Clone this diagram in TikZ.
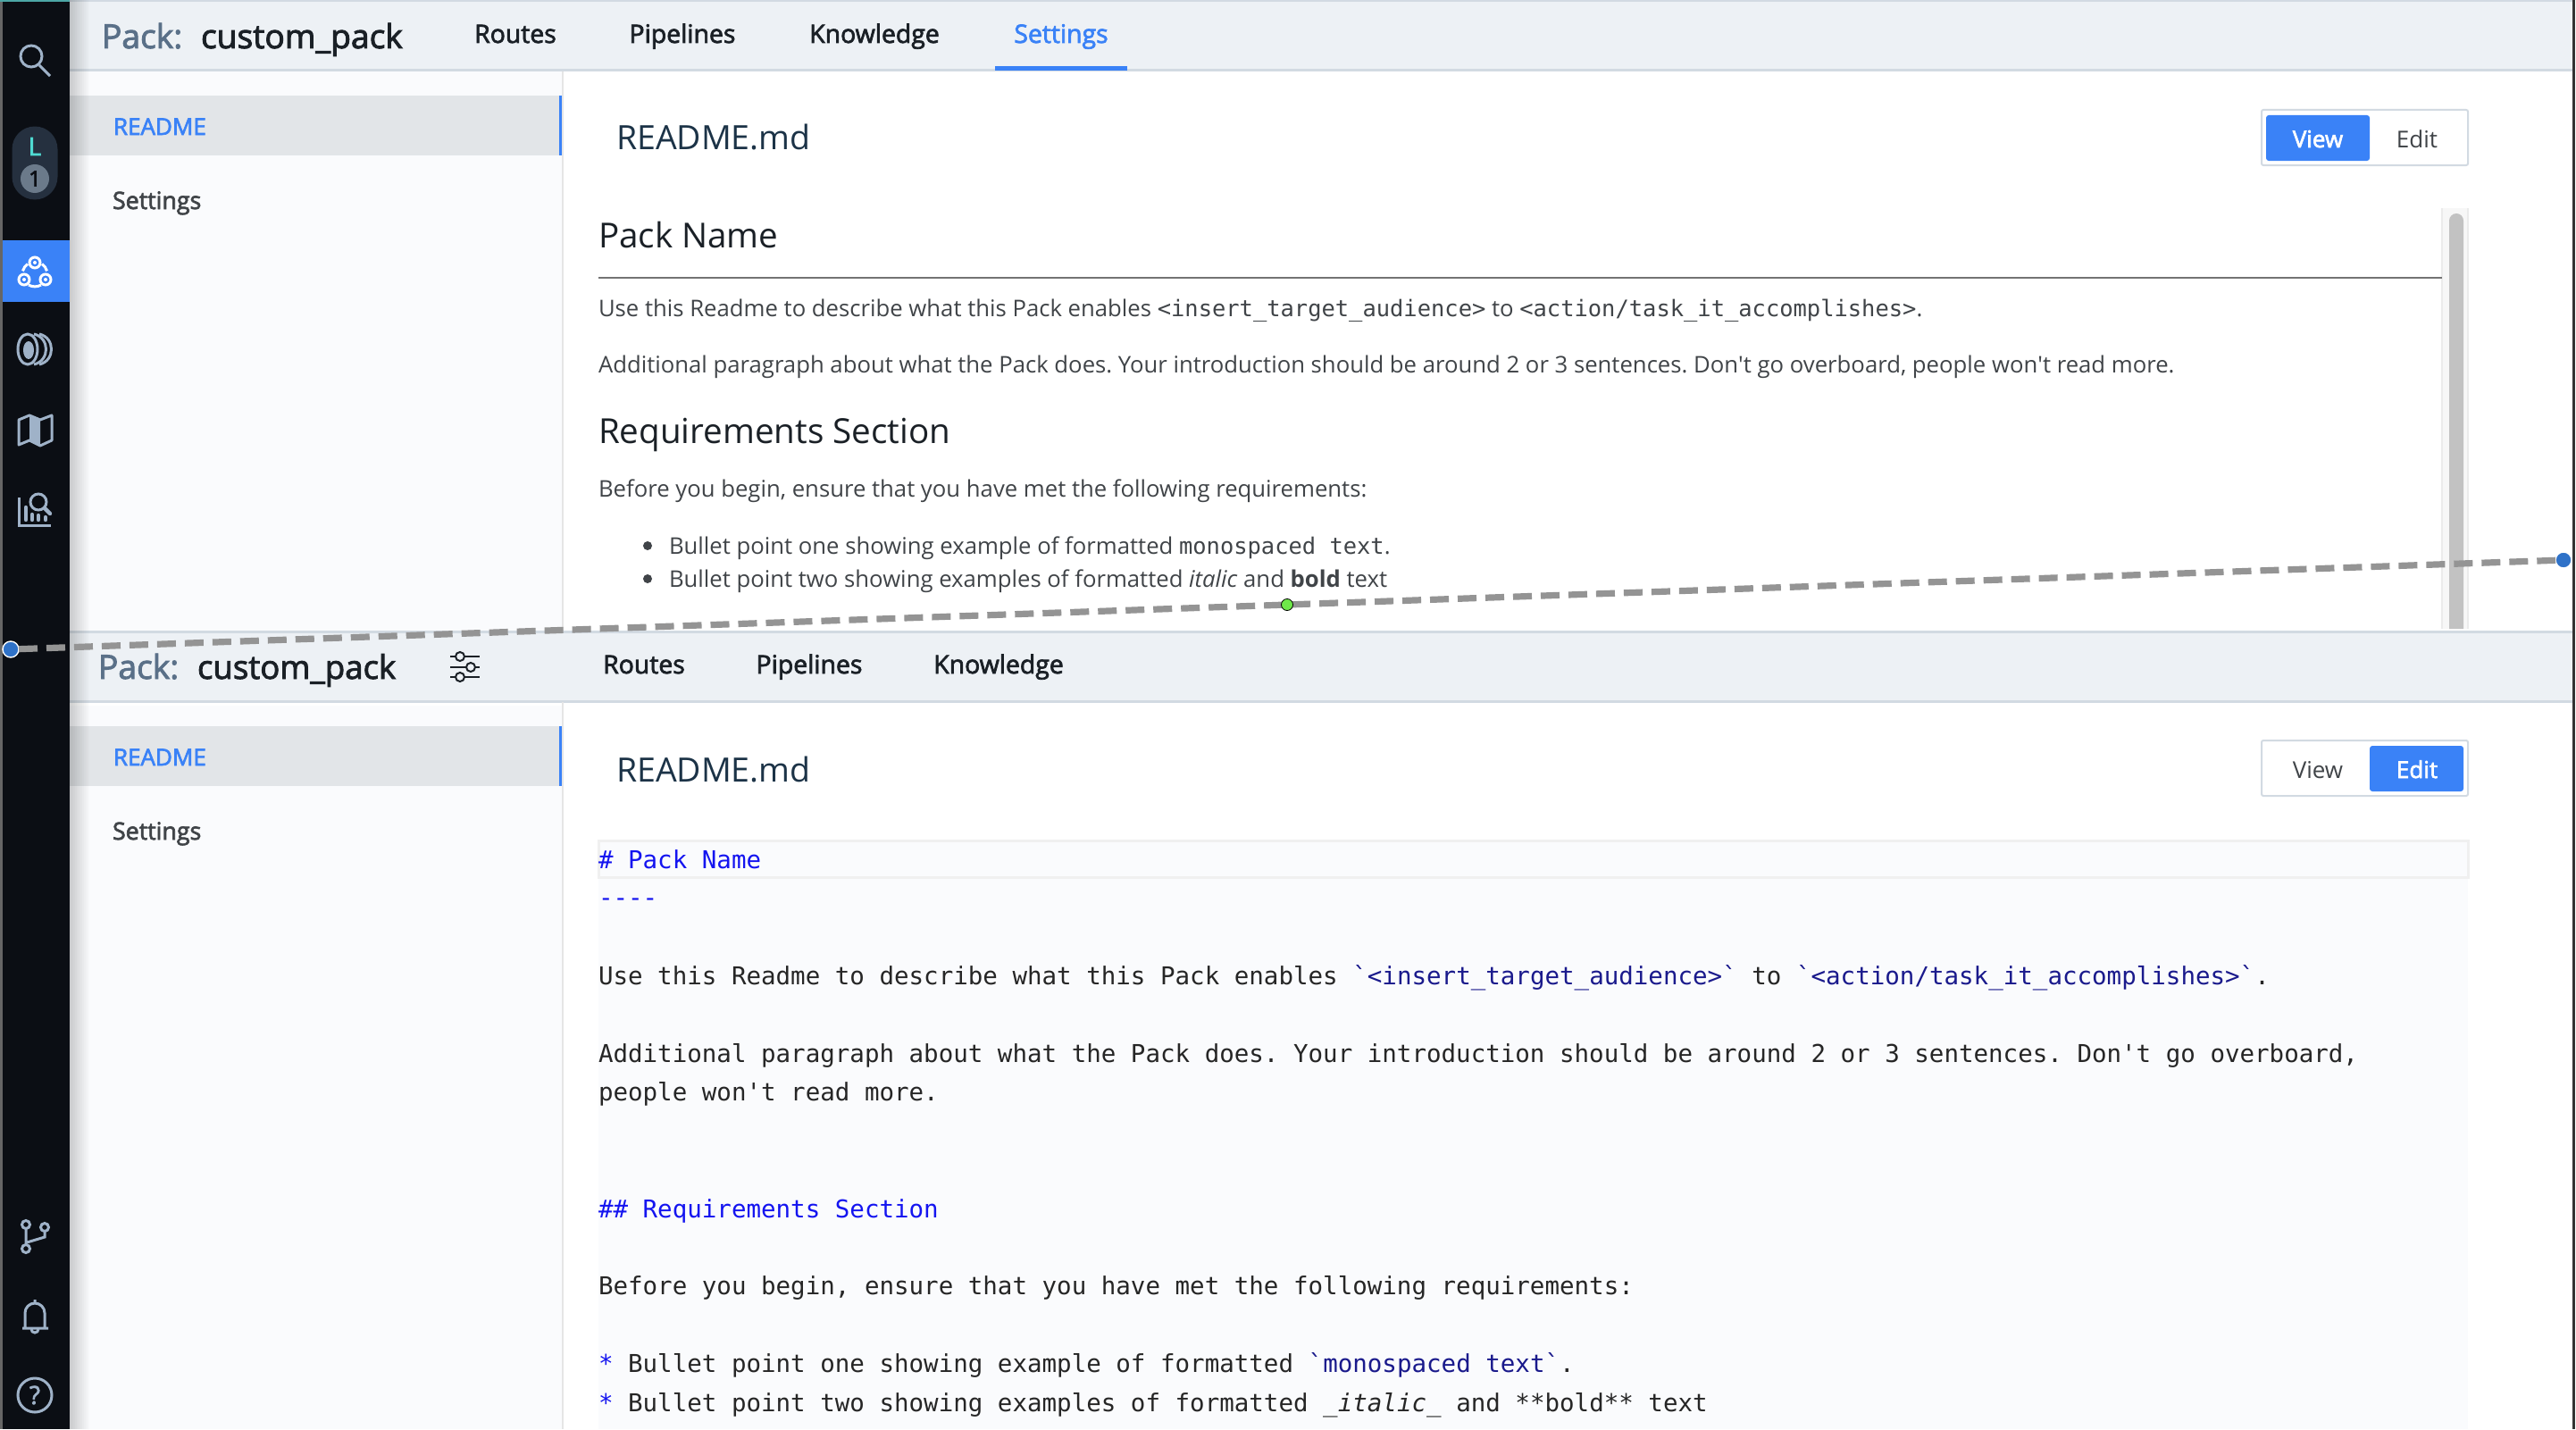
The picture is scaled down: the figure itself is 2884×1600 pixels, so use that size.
\documentclass[tikz,border=0pt]{standalone}
\usepackage{xcolor}
\usepackage{fontspec}
\setmainfont{Open Sans}
\setmonofont{DejaVu Sans Mono}
\newfontfamily\medfont{Open Sans}[FakeBold=2.5]
\newcommand{\mdcode}[1]{{\ttfamily\fontsize{12.72}{16}\selectfont #1}}
\usepackage{tikz}
\definecolor{barDark}{HTML}{0B0E14}
\definecolor{iconGrey}{HTML}{9FB2C8}
\definecolor{headBg}{HTML}{EDF1F5}
\definecolor{headLine}{HTML}{D2DAE2}
\definecolor{panelBg}{HTML}{FAFBFD}
\definecolor{rowBg}{HTML}{E2E5E8}
\definecolor{uiBlue}{HTML}{3A82F7}
\definecolor{packGrey}{HTML}{5A7088}
\definecolor{inkDark}{HTML}{1A2026}
\definecolor{inkBody}{HTML}{404448}
\definecolor{inkHead}{HTML}{1C3347}
\definecolor{codeHead}{HTML}{1414F0}
\definecolor{codeTick}{HTML}{1A1A8C}
\definecolor{handleBlue}{HTML}{2F72C8}
\definecolor{handleGreen}{HTML}{6FE84A}
\definecolor{pillBg}{HTML}{25303F}
\definecolor{pillTeal}{HTML}{4FDAD2}
\definecolor{pillNum}{HTML}{6B7A8A}
\tikzset{
  every node/.style={inner sep=0pt,outer sep=0pt},
  lbl/.style={anchor=base west},
  packlabel/.style={lbl,text=packGrey,font=\medfont\fontsize{18.6}{22}\selectfont},
  packname/.style={lbl,text=inkDark,font=\medfont\fontsize{18.6}{22}\selectfont},
  tablabel/.style={anchor=base,text=inkDark,font=\medfont\fontsize{14.2}{17}\selectfont},
  sidelabel/.style={lbl,text=inkBody,font=\medfont\fontsize{13.4}{16}\selectfont},
  sideactive/.style={lbl,text=uiBlue,font=\medfont\fontsize{13}{16}\selectfont},
  filetitle/.style={lbl,text=inkHead,font=\fontsize{18.75}{22}\selectfont},
  mdhead/.style={lbl,text=inkDark,font=\fontsize{19.3}{23}\selectfont},
  mdbody/.style={lbl,text=inkBody,font=\frenchspacing\fontsize{12.85}{16}\selectfont},
  codeline/.style={lbl,text=black!85,font=\ttfamily\fontsize{13.75}{17}\selectfont},
  codehead/.style={codeline,text=codeHead},
  togglelabel/.style={anchor=base,text=inkBody,font=\fontsize{13}{16}\selectfont},
  toggleon/.style={togglelabel,text=white,font=\medfont\fontsize{13}{16}\selectfont},
  icon/.style={iconGrey,line width=1.5pt},
  bar/.style={iconGrey,line width=2.2pt,line cap=round},
  handle/.style={circle,minimum size=9pt},
}
\begin{document}
\begin{tikzpicture}[x=1pt,y=-1pt,scale=0.5]
\useasboundingbox (0,0) rectangle (2884,1600);
\fill[white] (0,0) rectangle (2884,1600);
\fill[panelBg] (78,79) rectangle (630,1600);
\fill[rowBg] (78,107) rectangle (626,174);
\fill[uiBlue] (626,107) rectangle (630,174);
\fill[rowBg] (78,813) rectangle (626,880);
\fill[uiBlue] (626,813) rectangle (630,880);
\draw[black!10,line width=1pt] (630,79) -- (630,1600);
\fill[panelBg] (670,940) rectangle (2763,1600);
\fill[headBg] (78,0) rectangle (2880,79);
\draw[headLine,line width=1.5pt] (78,1) -- (2880,1);
\draw[headLine,line width=1.5pt] (78,79) -- (2880,79);
\fill[uiBlue] (1114,74) rectangle (1262,79);
\fill[white] (78,707) rectangle (2880,790);
\fill[headBg] (78,707) rectangle (2880,785);
\draw[headLine,line width=1.5pt] (78,707) -- (2880,707);
\draw[headLine,line width=1.5pt] (78,785) -- (2880,785);
\draw[black!10,line width=1pt] (630,786) -- (630,1600);
\fill[barDark] (0,0) rectangle (78,1600);
\fill[black!60] (0,0) rectangle (3,1600);
\fill[teal!70!white] (0,0) rectangle (78,2);
\foreach \i in {0,...,10}
  \fill[black,opacity=0.017*(11-\i)] (78+2*\i,0) rectangle (80+2*\i,1600);
\fill[black!80] (2880,0) rectangle (2883,1600);
\draw[icon] (35,63) circle (12);
\draw[icon] (44,73) -- (56,85);
\fill[pillBg] (13.5,167) arc (180:360:25.5) -- (64.5,198) arc (0:180:25.5) -- cycle;
\node[text=pillTeal,font=\medfont\fontsize{14}{17}\selectfont] (avatarL) at (39,164) {L};
\node[circle,fill=pillNum,minimum size=16pt,text=barDark,font=\medfont\fontsize{12}{14}\selectfont] (avatarNum) at (39,200) {1};
\fill[uiBlue] (3,269) rectangle (78,338);
\draw[white,line width=1.5pt] (39,294) circle (6) (27,313) circle (6) (51,313) circle (6);
\fill[white] (39,294) circle (2) (27,313) circle (2) (51,313) circle (2);
\draw[white,line width=1.5pt] (46,319) arc (60:120:14) (25.5,303.4) arc (195:235:14) (47,295.5) arc (-55:-15:14);
\draw[icon] (31,391) ellipse (11 and 17);
\fill[iconGrey] (32,392) ellipse (6 and 10);
\draw[icon] (38,374) .. controls (56,378) and (56,404) .. (38,408);
\draw[icon] (44,374) .. controls (62,378) and (62,404) .. (44,408);
\draw[icon,line join=round] (21,470) -- (33,465) -- (45,470) -- (58,465) -- (58,493) -- (45,499) -- (33,493) -- (21,498) -- cycle;
\fill[iconGrey] (33,465) -- (45,470) -- (45,499) -- (33,493) -- cycle;
\draw[icon] (21,557) -- (21,588) -- (57,588);
\draw[icon] (43,562) circle (9);
\draw[bar] (50,569) -- (56,575);
\foreach \barx/\bary in {29/568,36/576,43/577,51/579}
  \draw[bar] (\barx,\bary) -- (\barx,582);
\draw[icon] (29,1371) circle (4.5) (50,1374) circle (4.5) (29,1398) circle (4.5);
\draw[icon] (29,1376) -- (29,1393) (30,1391) -- (50,1385) -- (50,1379);
\draw[icon] (25,1487) -- (54,1487) (28,1487) -- (28,1470) arc (180:360:11) -- (50,1487);
\draw[icon] (35,1488) arc (180:0:4) (39,1455) -- (39,1459);
\draw[icon] (39,1562) circle (19);
\node[text=iconGrey,font=\medfont\fontsize{14}{17}\selectfont] (helpMark) at (39,1562) {?};
\node[packlabel] (packTop) at (114,54) {Pack:};
\node[packname] (nameTop) at (225,54) {custom\_pack};
\node[tablabel] (routesTop) at (577,48) {Routes};
\node[tablabel] (pipesTop) at (764,48) {Pipelines};
\node[tablabel] (knowTop) at (979,48) {Knowledge};
\node[tablabel,text=uiBlue] (settingsTop) at (1188,48) {Settings};
\node[sideactive] (readmeTop) at (127,151) {README};
\node[sidelabel] (sideTop) at (126,234) {Settings};
\node[filetitle] (fileTop) at (690,168) {README.md};
\draw[headLine,line width=1pt,fill=white,rounded corners=1pt] (2532,123) rectangle (2763,185);
\fill[uiBlue,rounded corners=1.5pt] (2537,129) rectangle (2653,180);
\node[toggleon] (viewTop) at (2595,165) {View};
\node[togglelabel] (editTop) at (2706,165) {Edit};
\fill[black!3] (2734,233) rectangle (2763,704);
\draw[black!8,line width=1pt] (2734,233) -- (2734,704) (2763,233) -- (2763,704);
\fill[black!24] (2742,704) -- (2742,247) arc (180:360:8) -- (2758,704) -- cycle;
\node[mdhead] (mdTitle) at (670,277) {Pack Name};
\draw[black!55,line width=1pt] (670,311) -- (2734,311);
\node[mdbody] (mdLineA) at (670,354) {Use this Readme to describe what this Pack enables \mdcode{<insert\_target\_audience>} to \mdcode{<action/task\_it\_accomplishes>}.};
\node[mdbody] (mdLineB) at (670,417) {Additional paragraph about what the Pack does. Your introduction should be around 2 or 3 sentences. Don\textquotesingle t go overboard, people won\textquotesingle t read more.};
\node[mdhead] (mdReq) at (670,496) {Requirements Section};
\node[mdbody] (mdBefore) at (670,556) {Before you begin, ensure that you have met the following requirements:};
\fill[inkBody] (725,611) circle (5) (725,648) circle (5);
\node[mdbody] (mdBulA) at (749,620) {Bullet point one showing example of formatted \mdcode{monospaced text}.};
\node[mdbody] (mdBulB) at (749,657) {Bullet point two showing examples of formatted \textit{italic} and \textbf{bold} text};
\node[packlabel] (packLow) at (110,760) {Pack:};
\node[packname,font=\medfont\fontsize{18.3}{22}\selectfont] (nameLow) at (221,760) {custom\_pack};
\draw[inkDark,line width=1.2pt] (504,735) -- (537,735) (504,747) -- (537,747) (504,758) -- (537,758);
\draw[inkDark,line width=1pt,fill=headBg] (515,735) circle (5) (527,747) circle (5) (515,758) circle (5);
\node[tablabel] (routesLow) at (721,754) {Routes};
\node[tablabel] (pipesLow) at (906,754) {Pipelines};
\node[tablabel] (knowLow) at (1118,754) {Knowledge};
\node[sideactive] (readmeLow) at (127,857) {README};
\node[sidelabel] (sideLow) at (126,940) {Settings};
\node[filetitle] (fileLow) at (690,875) {README.md};
\draw[headLine,line width=1pt,fill=white,rounded corners=1pt] (2532,829) rectangle (2763,891);
\fill[uiBlue,rounded corners=1.5pt] (2653,835) rectangle (2758,886);
\node[togglelabel] (viewLow) at (2595,871) {View};
\node[toggleon] (editLow) at (2706,871) {Edit};
\draw[black!6,line width=1.5pt] (670,941) rectangle (2763,982);
\node[codehead] (codeTitle) at (670,972) {\# Pack Name};
\node[codehead] (codeRule) at (670,1014) {----};
\node[codeline] (codeA) at (670,1102) {Use this Readme to describe what this Pack enables \textcolor{codeTick}{`<insert\_target\_audience>`} to \textcolor{codeTick}{`<action/task\_it\_accomplishes>`}.};
\node[codeline] (codeB) at (670,1189) {Additional paragraph about what the Pack does. Your introduction should be around 2 or 3 sentences. Don't go overboard,};
\node[codeline] (codeC) at (670,1232) {people won't read more.};
\node[codehead] (codeReq) at (670,1363) {\#\# Requirements Section};
\node[codeline] (codeD) at (670,1449) {Before you begin, ensure that you have met the following requirements:};
\node[codeline] (codeE) at (670,1536) {\textcolor{codeHead}{*} Bullet point one showing example of formatted \textcolor{codeTick}{`monospaced text`}.};
\node[codeline] (codeF) at (670,1580) {\textcolor{codeHead}{*} Bullet point two showing examples of formatted \_\textit{italic}\_ and **bold** text};
\node[handle,fill=handleBlue,draw=white,line width=0.7pt] (handleLeft) at (12,727) {};
\node[handle,fill=handleBlue,draw=white,line width=0.7pt] (handleRight) at (2870,627) {};
\draw[black!42,line width=3.6pt,dash pattern=on 10.5pt off 5pt] (handleLeft) -- (handleRight);
\node[circle,minimum size=6.5pt,fill=handleGreen,draw=black,line width=0.4pt] (handleMid) at (1441,677) {};
\end{tikzpicture}
\end{document}
